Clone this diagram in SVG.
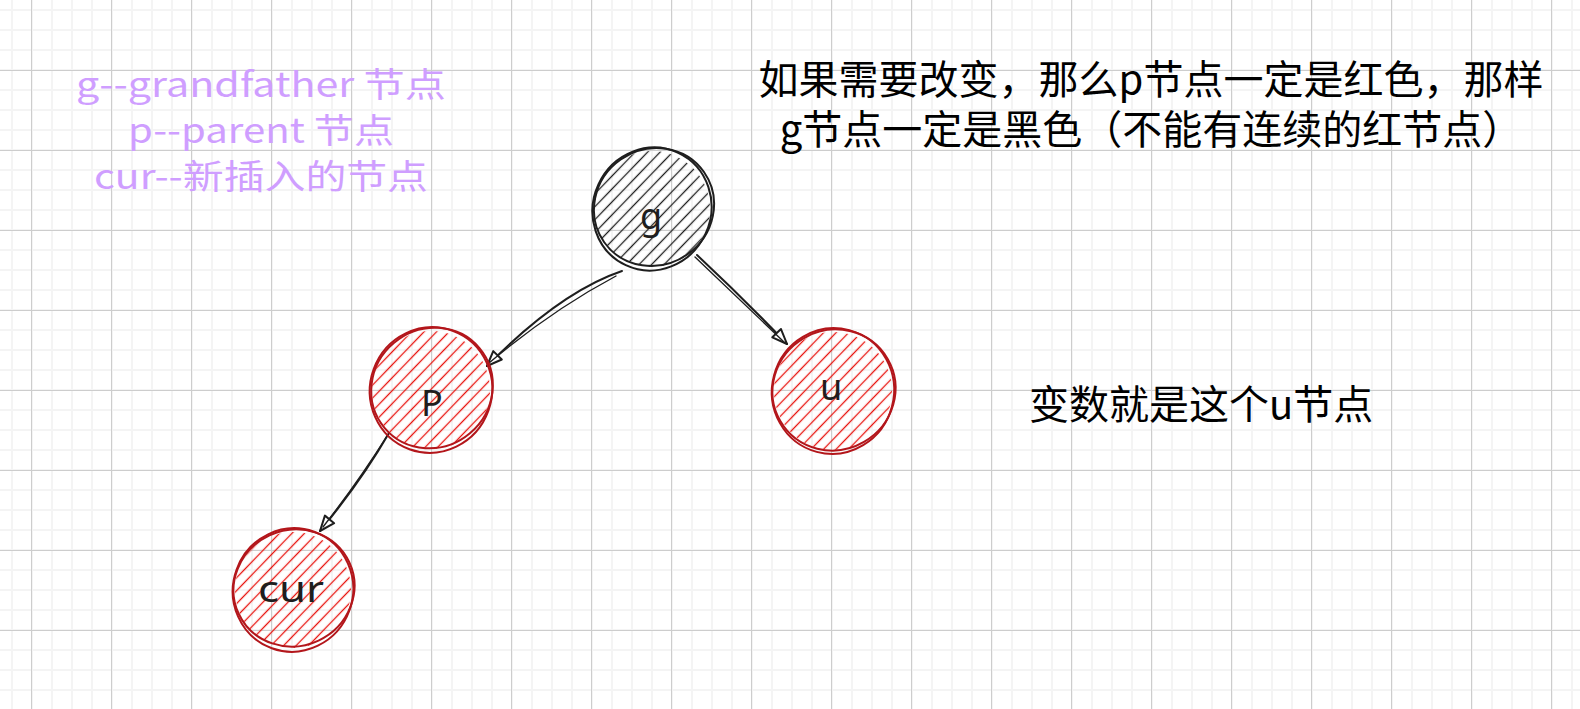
<svg xmlns="http://www.w3.org/2000/svg" width="1580" height="709" viewBox="0 0 1580 709">
  <style>
    .outline-black { fill: none; stroke: #1e1e1e; stroke-width: 2; stroke-linecap: round; }
    .outline-red { fill: none; stroke: #b3161b; stroke-width: 2; stroke-linecap: round; }
    .label { font-family: "Noto Sans", "Liberation Sans", sans-serif; font-size: 36px; fill: #1e1e1e; text-anchor: middle; }
    .note { font-family: "Noto Sans CJK SC", "Noto Sans", sans-serif; font-size: 40px; fill: #000; }
    .legend { font-family: "Noto Sans CJK SC", "Noto Sans", sans-serif; font-size: 34px; fill: #cf9eff; text-anchor: middle; }
    .conn { fill: none; stroke: #1e1e1e; stroke-width: 2; stroke-linecap: round; }
    .conn-thin { fill: none; stroke: #1e1e1e; stroke-width: 1.4; stroke-linecap: round; }
  </style>
  <defs>
    <pattern id="gridMinor" patternUnits="userSpaceOnUse" x="11" y="9" width="20" height="20">
      <rect x="0" y="0" width="2" height="20" fill="#f4f4f4"/>
      <rect x="0" y="0" width="20" height="2" fill="#f4f4f4"/>
    </pattern>
    <pattern id="gridMajor" patternUnits="userSpaceOnUse" x="31" y="70" width="80" height="80">
      <rect x="0" y="0" width="1" height="80" fill="#cdcdcd"/>
      <rect x="0" y="0" width="80" height="1" fill="#cdcdcd"/>
    </pattern>
    <pattern id="hatchBlack" patternUnits="userSpaceOnUse" width="9" height="9" patternTransform="rotate(-46)">
      <line x1="0" y1="4.5" x2="9" y2="4.5" stroke="#1e1e1e" stroke-width="1.3"/>
    </pattern>
    <pattern id="hatchRed" patternUnits="userSpaceOnUse" width="9" height="9" patternTransform="rotate(-46)">
      <line x1="0" y1="4.5" x2="9" y2="4.5" stroke="#e8140e" stroke-width="1.3"/>
    </pattern>
    <marker id="arrow" markerUnits="userSpaceOnUse" viewBox="-18 -9 20 18" refX="0" refY="0" markerWidth="20" markerHeight="18" orient="auto">
      <path d="M-15,-6 L0,0 L-15,6 Z" fill="#fff" stroke="#1e1e1e" stroke-width="2" stroke-linejoin="round"/>
    </marker>
  </defs>

  <rect x="0" y="0" width="1580" height="709" fill="#ffffff"/>
  <rect x="0" y="0" width="1580" height="709" fill="url(#gridMinor)"/>
  <rect x="0" y="0" width="1580" height="709" fill="url(#gridMajor)"/>

  <g id="legend">
    <text class="legend" x="261" y="97" textLength="370" lengthAdjust="spacingAndGlyphs">g--grandfather 节点</text>
    <text class="legend" x="261" y="143" textLength="266" lengthAdjust="spacingAndGlyphs">p--parent 节点</text>
    <text class="legend" x="261" y="189" textLength="334" lengthAdjust="spacingAndGlyphs">cur--新插入的节点</text>
  </g>

  <g id="note-top">
    <text class="note" x="1151" y="94" text-anchor="middle">如果需要改变，那么p节点一定是红色，那样</text>
    <text class="note" x="1151" y="144" text-anchor="middle">g节点一定是黑色（不能有连续的红节点）</text>
  </g>

  <g id="note-u">
    <text class="note" x="1029" y="419">变数就是这个u节点</text>
  </g>

  <g id="connectors">
    <path class="conn" d="M622,271 Q560,292 487,366" marker-end="url(#arrow)"/>
    <path class="conn-thin" d="M616,276 Q552,310 489,363"/>
    <path class="conn" d="M697,255 Q745,300 787,344" marker-end="url(#arrow)"/>
    <path class="conn-thin" d="M695,257 Q742,302 784,342"/>
    <path class="conn" d="M389,433 Q362,480 320,531" marker-end="url(#arrow)"/>
    <path class="conn-thin" d="M387,436 Q358,482 323,527"/>
  </g>

  <g id="node-g">
    <circle cx="652" cy="209" r="58" fill="url(#hatchBlack)"/>
    <ellipse class="outline-black" cx="652" cy="209" rx="59" ry="62" transform="rotate(25 652 209)"/>
    <ellipse class="outline-black" cx="654" cy="207" rx="61" ry="58" transform="rotate(-35 654 207)"/>
    <text class="label" x="651" y="229">g</text>
  </g>

  <g id="node-p">
    <circle cx="431" cy="390" r="59" fill="url(#hatchRed)"/>
    <ellipse class="outline-red" cx="431" cy="390" rx="61" ry="63" transform="rotate(20 431 390)"/>
    <ellipse class="outline-red" cx="432" cy="388" rx="62" ry="59" transform="rotate(-40 432 388)"/>
    <text class="label" x="432" y="416">P</text>
  </g>

  <g id="node-u">
    <circle cx="833" cy="391" r="59" fill="url(#hatchRed)"/>
    <ellipse class="outline-red" cx="833" cy="391" rx="61" ry="63" transform="rotate(15 833 391)"/>
    <ellipse class="outline-red" cx="834" cy="390" rx="62" ry="60" transform="rotate(-30 834 390)"/>
    <text class="label" x="831" y="400">u</text>
  </g>

  <g id="node-cur">
    <circle cx="293" cy="590" r="58" fill="url(#hatchRed)"/>
    <ellipse class="outline-red" cx="293" cy="590" rx="60" ry="62" transform="rotate(20 293 590)"/>
    <ellipse class="outline-red" cx="294" cy="588" rx="61" ry="58" transform="rotate(-25 294 588)"/>
    <text class="label" x="291" y="602" textLength="66" lengthAdjust="spacingAndGlyphs">cur</text>
  </g>
</svg>
